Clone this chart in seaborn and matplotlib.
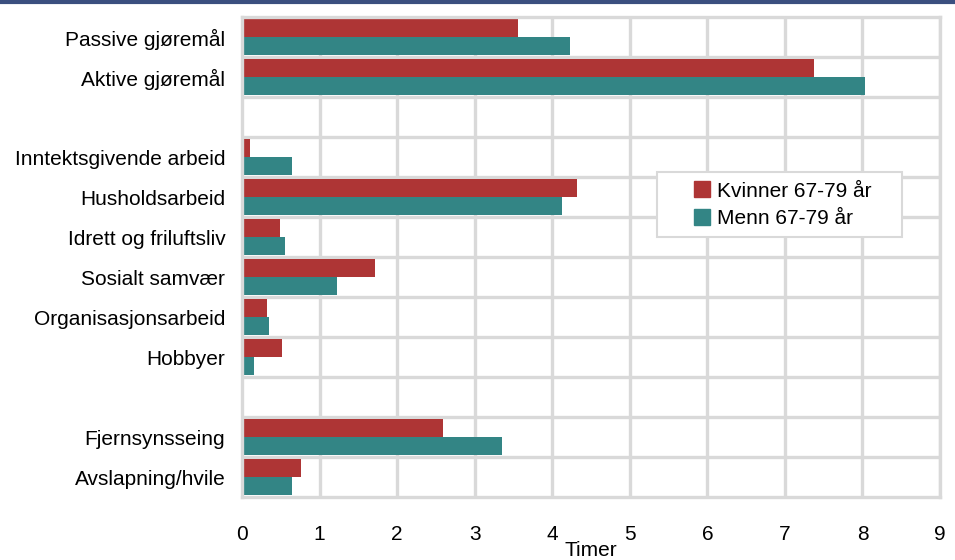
import pandas as pd
import matplotlib.pyplot as plt
import numpy as np
import seaborn as sns
from matplotlib.lines import Line2D
from matplotlib.patches import Rectangle

# Data (hours); blank rows separate the groups
categories = ['Passive gjøremål', 'Aktive gjøremål', ' ',
              'Inntektsgivende arbeid', 'Husholdsarbeid', 'Idrett og friluftsliv',
              'Sosialt samvær', 'Organisasjonsarbeid', 'Hobbyer', '  ',
              'Fjernsynsseing', 'Avslapning/hvile']
kvinner = [3.56, 7.38, np.nan, 0.10, 4.32, 0.49, 1.71, 0.32, 0.52, np.nan, 2.59, 0.76]
menn = [4.23, 8.03, np.nan, 0.65, 4.12, 0.55, 1.23, 0.35, 0.15, np.nan, 3.35, 0.64]
series = ['Kvinner 67-79 år', 'Menn 67-79 år']
colors = ['#AE3535', '#338585']

df = pd.DataFrame({'Kategori': categories * 2,
                   'Timer': kvinner + menn,
                   'Gruppe': [series[0]] * len(categories) + [series[1]] * len(categories)})

sns.set_style('white')
plt.rcParams['font.family'] = ['Liberation Sans', 'DejaVu Sans']
plt.rcParams['text.color'] = 'black'
plt.rcParams['xtick.color'] = 'black'
plt.rcParams['ytick.color'] = 'black'
plt.rcParams['axes.labelcolor'] = 'black'

fig = plt.figure(figsize=(9.55, 5.6), dpi=100)
ax = fig.add_axes([0.2534, 0.1125, 0.7309, 0.8571])

sns.barplot(data=df, x='Timer', y='Kategori', hue='Gruppe', order=categories,
            hue_order=series, palette=colors, width=0.9, saturation=1,
            orient='h', ax=ax, legend=False, linewidth=0)

grid_col = '#D9D9D9'
ax.set_xlim(0, 9)
ax.set_ylim(len(categories) - 0.5, -0.5)
ax.set_xticks(range(10))
for x in range(1, 10):
    ax.axvline(x, color=grid_col, lw=2.4, zorder=0)
for y in np.arange(0.5, len(categories) - 0.5, 1):
    ax.axhline(y, color=grid_col, lw=2.4, zorder=0)
for s in ax.spines.values():
    s.set_color(grid_col)
    s.set_linewidth(2.4)

ax.tick_params(axis='x', length=0, pad=20, labelsize=15)
ax.tick_params(axis='y', length=0, pad=12, labelsize=15)
ax.set_xlabel('Timer', fontsize=15)
ax.xaxis.set_label_coords(0.5, -0.092)
ax.set_ylabel('')

# legend box (wider than the legend content, like the original)
ax.add_patch(Rectangle((0.5946, 0.5417), 0.351, 0.1353, transform=ax.transAxes,
                       facecolor='white', edgecolor=grid_col, lw=1.5, zorder=4))
handles = [Line2D([], [], marker='s', color=c, ls='', markersize=11) for c in colors]
leg = ax.legend(handles, series, loc='center', bbox_to_anchor=(0.7718, 0.609),
                fontsize=15, frameon=False, handletextpad=0.1,
                borderpad=0, labelspacing=0.4, borderaxespad=0, handlelength=1.2)
leg.set_zorder(5)

# dark band along the top of the figure
fig.add_artist(Line2D([0, 1], [0.997, 0.997], color='#3B4F7F', lw=3, transform=fig.transFigure))

plt.savefig('out.png', dpi=100)
plt.close()
